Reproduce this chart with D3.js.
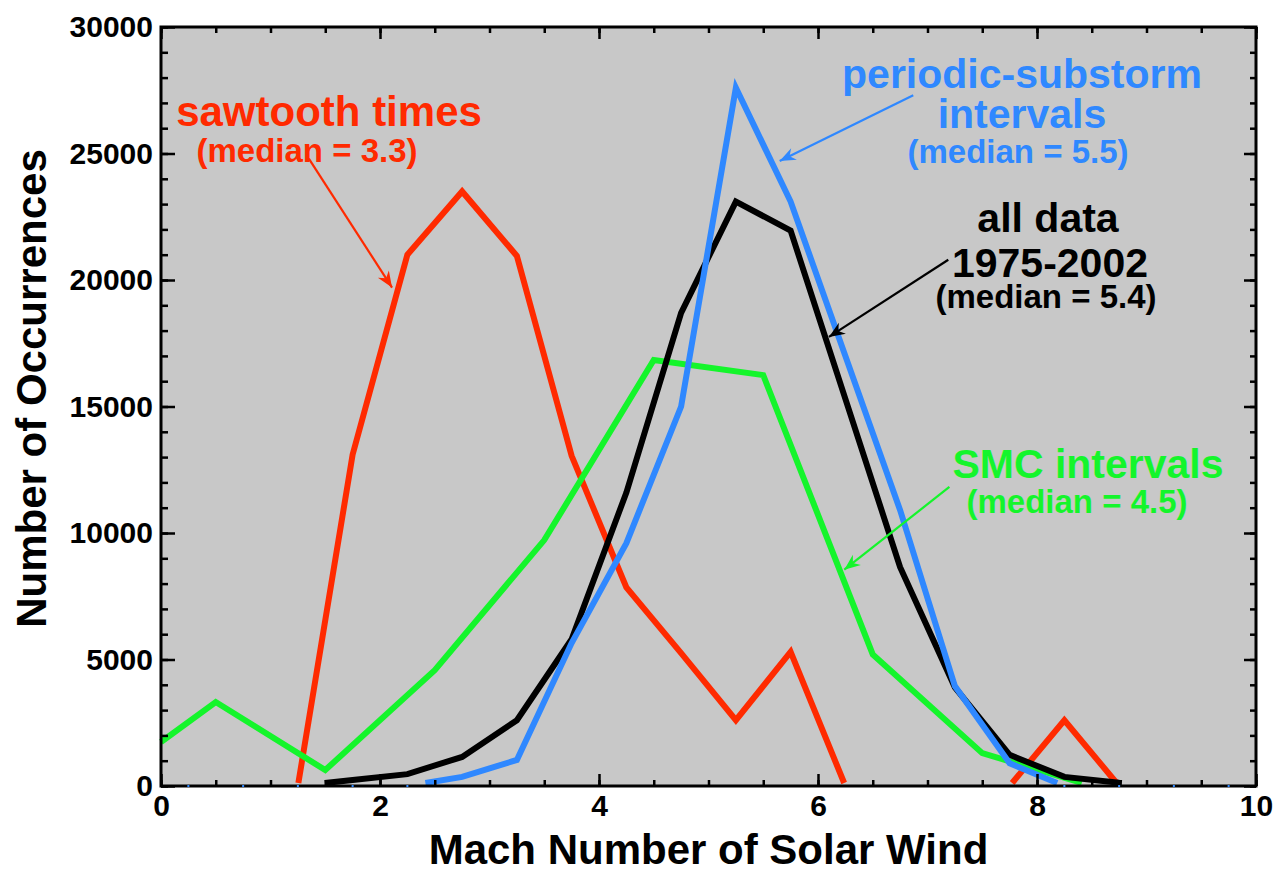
<!DOCTYPE html>
<html>
<head>
<meta charset="utf-8">
<script src="https://cdn.jsdelivr.net/npm/d3@7"></script>
<style>
  html, body { margin: 0; padding: 0; background: #ffffff; }
  svg { display: block; }
  text { font-family: "Liberation Sans", Arial, Helvetica, sans-serif; font-weight: bold; }
</style>
</head>
<body>
<svg id="chart" width="1281" height="873"></svg>
<script>
// Histogram bin centres (Mach number) shared by three of the curves
const binCenters = [0.25, 0.75, 1.25, 1.75, 2.25, 2.75, 3.25, 3.75, 4.25, 4.75,
                    5.25, 5.75, 6.25, 6.75, 7.25, 7.75, 8.25, 8.75, 9.25, 9.75];

// Sawtooth times
const sawtoothCounts = [0, 0, 0, 13100, 21000, 23500, 20950, 13050, 7850, 5250,
                        2600, 5300, 0, 0, 0, 0, 2600, 0, 0, 0];
// All data 1975-2002
const allDataCounts = [0, 0, 0, 240, 470, 1150, 2600, 5800, 11600, 18700,
                       23100, 21950, 15300, 8650, 3900, 1230, 360, 125, 0, 0];
// Periodic-substorm intervals
const periodicCounts = [0, 0, 0, 0, 0, 360, 1030, 5650, 9600, 15000,
                        27600, 23100, 17000, 10900, 3950, 900, 0, 0, 0, 0];

// SMC intervals use their own binning
const smcMach = [0, 0.5, 1.5, 2.5, 3.5, 4.5, 5.5, 6.5, 7.5, 8.5, 9.5];
const smcCounts = [1740, 3320, 630, 4580, 9720, 16840, 16240, 5200, 1300, 0, 0];

// Axis ticks and labels
const xMajorTicks = [0, 2, 4, 6, 8, 10];
const xMinorTicks = d3.range(0, 10.01, 0.5);
const yMajorTicks = [0, 5000, 10000, 15000, 20000, 25000, 30000];
const yMinorTicks = d3.range(0, 30001, 1000);
const xTitle = "Mach Number of Solar Wind";
const yTitle = "Number of Occurrences";

const colors = { sawtooth: "#ff2a00", all: "#000000", periodic: "#2f88ff", smc: "#14f52b" };

const svg = d3.select("#chart");
const x = d3.scaleLinear().domain([0, 10]).range([161, 1256]);
const y = d3.scaleLinear().domain([0, 30000]).range([786, 27]);

const [x0, x1] = x.range();
const [yb, yt] = y.range();

// plot background
svg.append("rect")
  .attr("x", x0).attr("y", yt)
  .attr("width", x1 - x0).attr("height", yb - yt)
  .attr("fill", "#c8c8c8");

const defs = svg.append("defs");
const marker = (id, color) => {
  defs.append("marker")
    .attr("id", id)
    .attr("viewBox", "-17 -8 19 16")
    .attr("refX", 0).attr("refY", 0)
    .attr("markerWidth", 19).attr("markerHeight", 16)
    .attr("markerUnits", "userSpaceOnUse")
    .attr("orient", "auto")
    .append("path")
    .attr("d", "M0,0 L-16,-6.5 L-11,0 L-16,6.5 Z")
    .attr("fill", color);
};
marker("arrRed", colors.sawtooth);
marker("arrBlue", colors.periodic);
marker("arrBlack", colors.all);
marker("arrGreen", colors.smc);

// The polylines are cut where they drop to the floor just above the zero line
// (a few pixels up, so the axis stays clean); the cut is done in data space.
const floorValue = y.invert(yb - 3);
function clipPieces(xs, ys) {
  const pieces = [];
  let cur = [];
  for (let i = 0; i < xs.length - 1; i++) {
    const a = [xs[i], ys[i]], b = [xs[i + 1], ys[i + 1]];
    const ain = a[1] >= floorValue, bin = b[1] >= floorValue;
    if (!ain && !bin) { if (cur.length) { pieces.push(cur); cur = []; } continue; }
    const cross = () => {
      const t = (floorValue - a[1]) / (b[1] - a[1]);
      return [a[0] + t * (b[0] - a[0]), floorValue];
    };
    if (ain && bin) {
      if (!cur.length) cur.push(a);
      cur.push(b);
    } else if (ain && !bin) {
      if (!cur.length) cur.push(a);
      cur.push(cross());
      pieces.push(cur); cur = [];
    } else {
      cur = [cross(), b];
    }
  }
  if (cur.length) pieces.push(cur);
  return pieces;
}

const line = d3.line().x(d => x(d[0])).y(d => y(d[1]));
const curves = svg.append("g");

function drawCurve(xs, ys, color) {
  curves.append("g").selectAll("path")
    .data(clipPieces(xs, ys))
    .join("path")
    .attr("d", line)
    .attr("fill", "none")
    .attr("stroke", color)
    .attr("stroke-width", 6)
    .attr("stroke-linejoin", "miter")
    .attr("stroke-miterlimit", 10)
    .attr("stroke-linecap", "butt");
}

drawCurve(binCenters, sawtoothCounts, colors.sawtooth);
drawCurve(smcMach, smcCounts, colors.smc);
drawCurve(binCenters, allDataCounts, colors.all);
drawCurve(binCenters, periodicCounts, colors.periodic);

// axes: ticks point inward on all four sides
function styleAxis(g) {
  g.select(".domain").remove();
  g.selectAll(".tick line").attr("stroke", "#000").attr("stroke-width", 2.5);
  g.selectAll(".tick text").attr("font-size", 30).attr("fill", "#000")
    .attr("font-family", "'Liberation Sans', Arial, Helvetica, sans-serif").attr("font-weight", "bold");
}

svg.append("g").attr("transform", `translate(0,${yb})`)
  .call(d3.axisBottom(x).tickValues(xMinorTicks).tickSizeInner(-6).tickSizeOuter(0).tickFormat(""))
  .call(styleAxis);
svg.append("g").attr("transform", `translate(0,${yb})`)
  .call(d3.axisBottom(x).tickValues(xMajorTicks).tickSizeInner(-12).tickSizeOuter(0).tickPadding(9).tickFormat(d3.format("d")))
  .call(styleAxis);
svg.append("g").attr("transform", `translate(0,${yt})`)
  .call(d3.axisTop(x).tickValues(xMinorTicks).tickSizeInner(-6).tickSizeOuter(0).tickFormat(""))
  .call(styleAxis);
svg.append("g").attr("transform", `translate(0,${yt})`)
  .call(d3.axisTop(x).tickValues(xMajorTicks).tickSizeInner(-12).tickSizeOuter(0).tickFormat(""))
  .call(styleAxis);

svg.append("g").attr("transform", `translate(${x0},0)`)
  .call(d3.axisLeft(y).tickValues(yMinorTicks).tickSizeInner(-7).tickSizeOuter(0).tickFormat(""))
  .call(styleAxis);
svg.append("g").attr("transform", `translate(${x0},0)`)
  .call(d3.axisLeft(y).tickValues(yMajorTicks).tickSizeInner(-14).tickSizeOuter(0).tickPadding(8).tickFormat(d3.format("d")))
  .call(styleAxis);
svg.append("g").attr("transform", `translate(${x1},0)`)
  .call(d3.axisRight(y).tickValues(yMinorTicks).tickSizeInner(-6).tickSizeOuter(0).tickFormat(""))
  .call(styleAxis);
svg.append("g").attr("transform", `translate(${x1},0)`)
  .call(d3.axisRight(y).tickValues(yMajorTicks).tickSizeInner(-12).tickSizeOuter(0).tickFormat(""))
  .call(styleAxis);

// frame
svg.append("rect")
  .attr("x", x0).attr("y", yt)
  .attr("width", x1 - x0).attr("height", yb - yt)
  .attr("fill", "none").attr("stroke", "#000").attr("stroke-width", 3);

// empty periodic-substorm bins show as small marks on the zero line
svg.append("g").selectAll("rect")
  .data(binCenters.map((v, i) => [v, periodicCounts[i]]).filter(d => d[1] === 0))
  .join("rect")
  .attr("x", d => x(d[0]) - 1)
  .attr("y", d => y(d[1]) - 1)
  .attr("width", 2).attr("height", 2)
  .attr("fill", colors.periodic);

// axis titles
svg.append("text")
  .attr("x", (x0 + x1) / 2).attr("y", 864)
  .attr("text-anchor", "middle").attr("font-size", 42)
  .text(xTitle);
svg.append("text")
  .attr("transform", `translate(46,${(yt + yb) / 2 - 18}) rotate(-90)`)
  .attr("text-anchor", "middle").attr("font-size", 42)
  .text(yTitle);

// annotations: each block is one text element with a line per tspan
function label(lines, color) {
  const t = svg.append("text")
    .attr("text-anchor", "middle")
    .attr("fill", color);
  lines.forEach(l => {
    t.append("tspan")
      .attr("x", l.x).attr("y", l.y)
      .attr("font-size", l.size)
      .text(l.text);
  });
}
function arrow(from, to, color, id) {
  svg.append("line")
    .attr("x1", x(from[0])).attr("y1", y(from[1]))
    .attr("x2", x(to[0])).attr("y2", y(to[1]))
    .attr("stroke", color).attr("stroke-width", 2.2)
    .attr("marker-end", `url(#${id})`);
}

label([
  { text: "sawtooth times", x: 329, y: 126, size: 42 },
  { text: "(median = 3.3)", x: 307, y: 162, size: 33 }
], colors.sawtooth);
arrow([1.35, 24800], [2.11, 19700], colors.sawtooth, "arrRed");

label([
  { text: "periodic-substorm", x: 1022, y: 88, size: 41 },
  { text: "intervals", x: 1022, y: 128, size: 41 },
  { text: "(median = 5.5)", x: 1018, y: 163, size: 33 }
], colors.periodic);
arrow([6.87, 27300], [5.65, 24700], colors.periodic, "arrBlue");

label([
  { text: "all data", x: 1048, y: 232, size: 41 },
  { text: "1975-2002", x: 1050, y: 277, size: 41 },
  { text: "(median = 5.4)", x: 1046, y: 308, size: 33 }
], colors.all);
arrow([7.19, 20800], [6.1, 17750], colors.all, "arrBlack");

label([
  { text: "SMC intervals", x: 1088, y: 478, size: 41 },
  { text: "(median = 4.5)", x: 1077, y: 513, size: 33 }
], colors.smc);
arrow([7.2, 11820], [6.24, 8550], colors.smc, "arrGreen");
</script>
</body>
</html>
